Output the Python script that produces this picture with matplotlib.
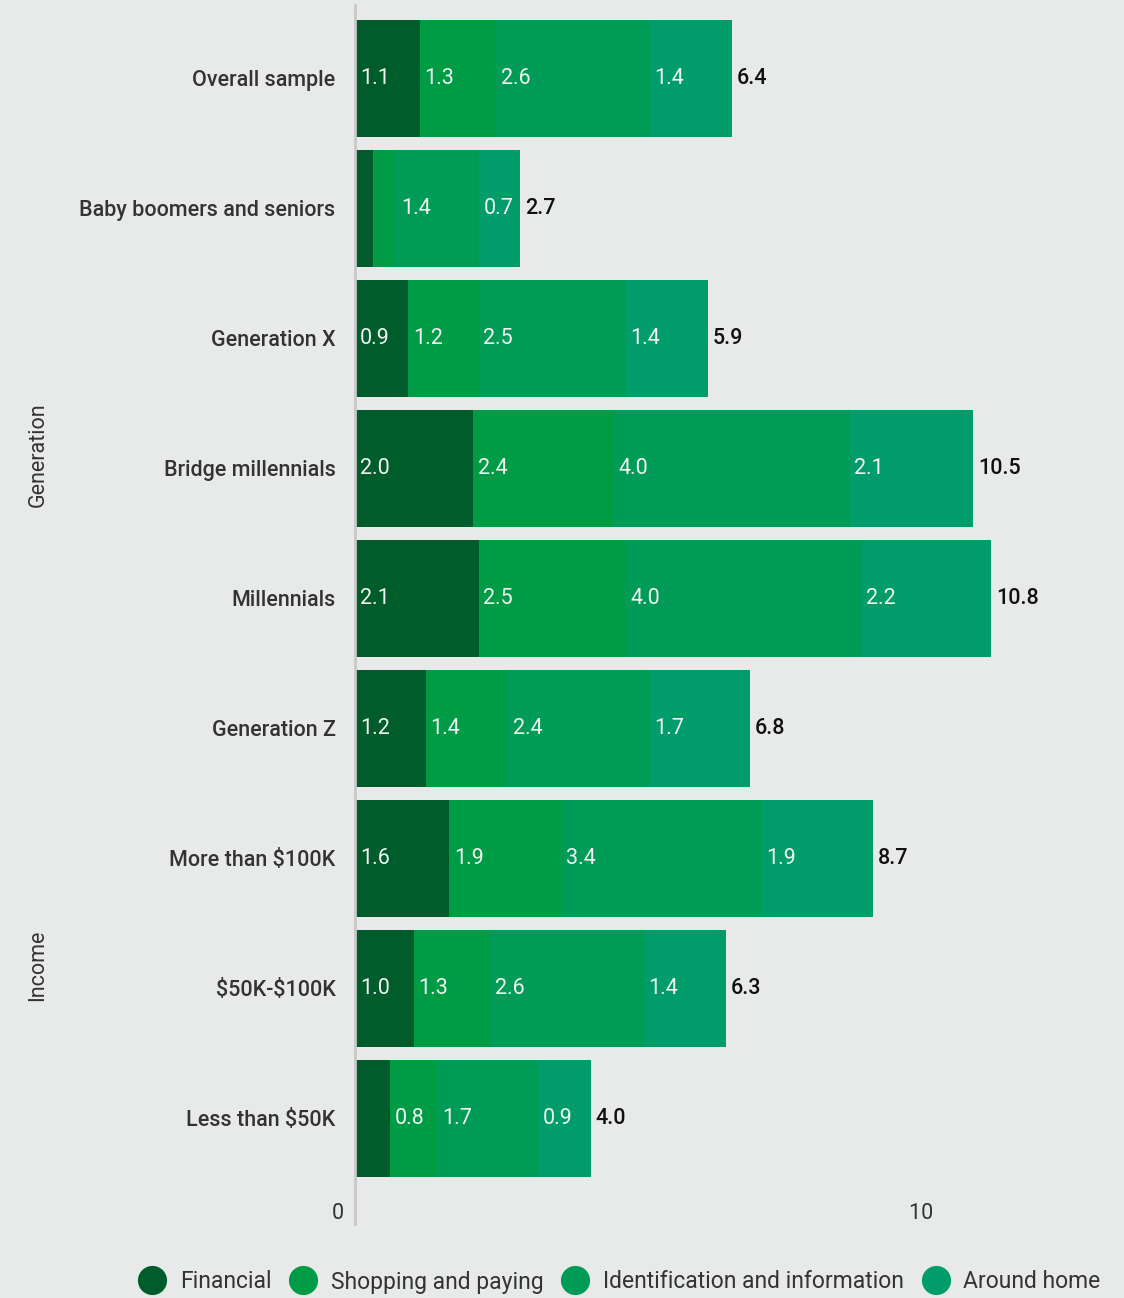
import matplotlib
matplotlib.use("Agg")
import matplotlib.pyplot as plt
from matplotlib.lines import Line2D

plt.rcParams['font.family'] = ['Roboto', 'DejaVu Sans']
plt.rcParams['text.parse_math'] = False

categories = ["Overall sample", "Baby boomers and seniors", "Generation X",
              "Bridge millennials", "Millennials", "Generation Z",
              "More than $100K", "$50K-$100K", "Less than $50K"]
series_names = ["Financial", "Shopping and paying",
                "Identification and information", "Around home"]
financial = [1.1, 0.3, 0.9, 2.0, 2.1, 1.2, 1.6, 1.0, 0.6]
shopping = [1.3, 0.4, 1.2, 2.4, 2.5, 1.4, 1.9, 1.3, 0.8]
identification = [2.6, 1.4, 2.5, 4.0, 4.0, 2.4, 3.4, 2.6, 1.7]
around_home = [1.4, 0.7, 1.4, 2.1, 2.2, 1.7, 1.9, 1.4, 0.9]
totals = [6.4, 2.7, 5.9, 10.5, 10.8, 6.8, 8.7, 6.3, 4.0]
# segments too narrow to carry a label
hidden = {(1, 0), (1, 1), (8, 0)}
x_ticks = [0, 10]

colors = ["#005c2b", "#009b45", "#009b56", "#009d6a"]
bg = "#e8eaea"

W, H = 1124, 1298
fig = plt.figure(figsize=(W / 100, H / 100), dpi=100, facecolor=bg)
ax_left, ax_right = 355 / W, 1.0
ax_top, ax_bot = 1 - 5 / H, 1 - 1224 / H
ax = fig.add_axes([ax_left, ax_bot, ax_right - ax_left, ax_top - ax_bot], facecolor=bg)

pitch = 130.0
y0_px = 78.0
ymin = (5 - y0_px) / pitch
ymax = (1224 - y0_px) / pitch
xmax = (W - 355) / 58.9

series = [financial, shopping, identification, around_home]
ypos = list(range(len(categories)))
left = [0.0] * len(categories)
for s_idx, (vals, col) in enumerate(zip(series, colors)):
    ax.barh(ypos, vals, left=left, height=0.9, color=col, edgecolor='none', zorder=2)
    for i, v in enumerate(vals):
        if (i, s_idx) not in hidden:
            ax.text(left[i] + 0.08, i, f"{v:.1f}", ha='left', va='center',
                    color="#f2f2f2", fontsize=15.5, zorder=3)
    left = [l + v for l, v in zip(left, vals)]

for i, t in enumerate(totals):
    ax.text(left[i] + 0.08, i, f"{t:.1f}", ha='left', va='center',
            color="#111111", fontsize=15.5, fontweight='medium', zorder=3)

ax.set_ylim(ymax, ymin)
ax.set_xlim(0, xmax)
ax.set_yticks(ypos)
ax.set_yticklabels(categories, fontsize=15.5, color="#333333", fontweight='medium')
ax.tick_params(axis='y', length=0, pad=14)
ax.set_xticks(x_ticks)
# labels sit just left of their tick, right-aligned
ax.set_xticklabels([f"{t}  " for t in x_ticks], fontsize=15.5, color="#333333",
                   ha='right')
ax.tick_params(axis='x', length=0, pad=-15)
for sp in ["top", "right", "bottom"]:
    ax.spines[sp].set_visible(False)
ax.spines["left"].set_color("#c8c8c8")
ax.spines["left"].set_linewidth(2)
ax.spines["left"].set_zorder(4)

fig.text(38 / W, 1 - 455 / H, "Generation", rotation=90, ha='center', va='center',
         fontsize=15.5, color="#333333")
fig.text(38 / W, 1 - 965 / H, "Income", rotation=90, ha='center', va='center',
         fontsize=15.5, color="#333333")

handles = [Line2D([0], [0], marker='o', linestyle='none', markersize=21,
                  markerfacecolor=c, markeredgecolor='none') for c in colors]
leg = fig.legend(handles, series_names, loc='center', ncol=4,
                 bbox_to_anchor=(619 / W, 1 - 1282 / H), frameon=False,
                 fontsize=16.5, handletextpad=0.55, columnspacing=0.75,
                 handlelength=1.3)
for t in leg.get_texts():
    t.set_color("#333333")

fig.savefig("out.png", dpi=100, facecolor=bg)
